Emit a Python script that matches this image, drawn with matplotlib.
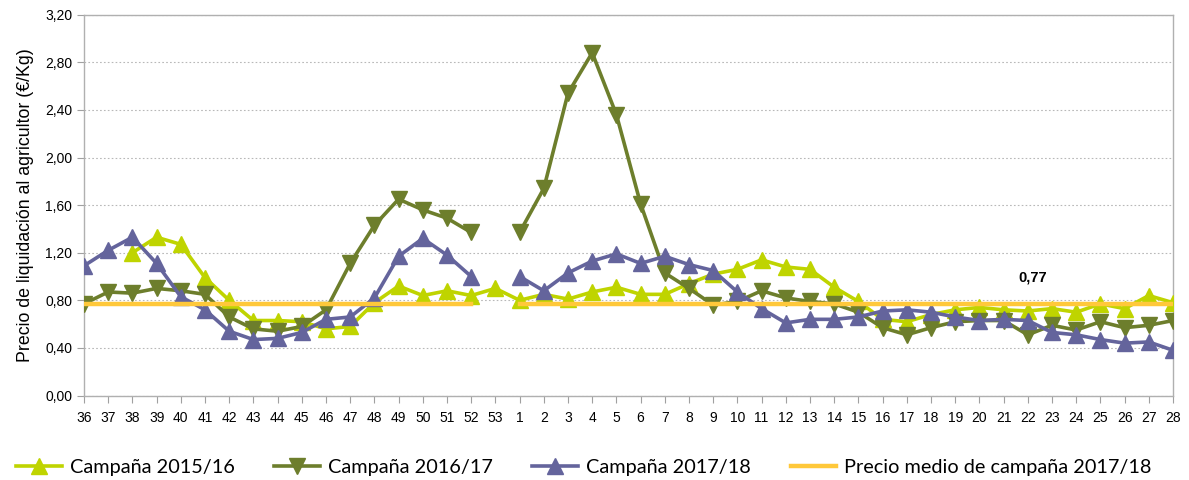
import matplotlib
matplotlib.use("Agg")
import matplotlib.pyplot as plt
import numpy as np

weeks = [str(w) for w in list(range(36, 54)) + list(range(1, 29))]

c1516 = [None, None, 1.20, 1.33, 1.27, 0.99, 0.80, 0.63, 0.63, 0.62, 0.56,
         0.58, 0.78, 0.92, 0.84, 0.88, 0.84, 0.90,
         0.80, 0.85, 0.81, 0.87, 0.91, 0.85, 0.85, 0.94, 1.02, 1.06, 1.14,
         1.08, 1.06, 0.91, 0.79, 0.64, 0.62, 0.68, 0.72, 0.74, 0.72, 0.71,
         0.73, 0.70, 0.77, 0.73, 0.84, 0.78]

c1617 = [0.77, 0.87, 0.86, 0.90, 0.88, 0.85, 0.66, 0.56, 0.54, 0.58, 0.72,
         1.11, 1.43, 1.65, 1.56, 1.49, 1.37, None,
         1.37, 1.74, 2.54, 2.88, 2.36, 1.61, 1.03, 0.90, 0.76, 0.79, 0.88,
         0.82, 0.79, 0.77, 0.70, 0.57, 0.51, 0.57, 0.62, 0.63, 0.63, 0.51,
         0.59, 0.55, 0.62, 0.57, 0.59, 0.63]

c1718 = [1.09, 1.22, 1.33, 1.11, 0.83, 0.72, 0.54, 0.47, 0.48, 0.53, 0.64,
         0.66, 0.82, 1.17, 1.32, 1.18, 1.00, None,
         1.00, 0.88, 1.03, 1.13, 1.19, 1.11, 1.17, 1.10, 1.05, 0.87, 0.73,
         0.61, 0.64, 0.64, 0.66, 0.71, 0.72, 0.70, 0.66, 0.63, 0.64, 0.63,
         0.53, 0.51, 0.47, 0.44, 0.45, 0.38]

avg_value = 0.77
avg_label = "0,77"

col1516 = "#BFD400"
col1617 = "#6D7E2C"
col1718 = "#64649C"
colavg = "#FFC83A"

def arr(v):
    return np.array([np.nan if x is None else x for x in v], dtype=float)

x = np.arange(len(weeks))
avg = np.full(len(weeks), avg_value)
avg[weeks.index("53")] = np.nan

fig = plt.figure(figsize=(11.89, 4.80), dpi=100)
ax = fig.add_axes([84/1189, 1-395.5/480, (1173-84)/1189, (395.5-14.7)/480])

ax.plot(x, arr(c1516), color=col1516, lw=2.6, marker="^", ms=11, label="Campaña 2015/16", zorder=3)
ax.plot(x, arr(c1617), color=col1617, lw=2.6, marker="v", ms=11, label="Campaña 2016/17", zorder=4)
ax.plot(x, arr(c1718), color=col1718, lw=2.6, marker="^", ms=11, label="Campaña 2017/18", zorder=5)
ax.plot(x, avg, color=colavg, lw=3.2, label="Precio medio de campaña 2017/18", zorder=6)

ax.text(39.2, 0.99, avg_label, fontsize=10.5, fontweight="bold", ha="center", va="center",
        family=["Liberation Sans", "DejaVu Sans"])

ax.set_xlim(0, len(weeks)-1)
ax.set_ylim(0, 3.2)
yt = np.arange(0, 3.21, 0.4)
ax.set_yticks(yt)
ax.set_yticklabels([f"{v:.2f}".replace(".", ",") for v in yt],
                   family=["Liberation Sans", "DejaVu Sans"], fontsize=10)
ax.set_xticks(x)
ax.set_xticklabels(weeks, family=["Liberation Sans", "DejaVu Sans"], fontsize=10)
ax.tick_params(axis="both", direction="out", length=5, color="#A0A0A0", width=0.8)
ax.tick_params(axis="x", pad=6)
ax.grid(axis="y", ls=(0, (1.5, 2)), color="#B8B8B8", lw=0.8)
ax.set_axisbelow(True)
for s in ax.spines.values():
    s.set_color("#B0B0B0")
    s.set_linewidth(1.0)

ax.set_ylabel("Precio de liquidación al agricultor (€/Kg)", fontsize=12.8,
              family=["Liberation Sans", "DejaVu Sans"], labelpad=8)

fig.legend(loc="center", bbox_to_anchor=(0.491, 1-467/480), ncol=4, frameon=False,
           prop={"family": ["Lato", "DejaVu Sans"], "size": 14.3},
           handlelength=2.3, columnspacing=2.0, handletextpad=0.4)

fig.savefig("out.png", dpi=100)
